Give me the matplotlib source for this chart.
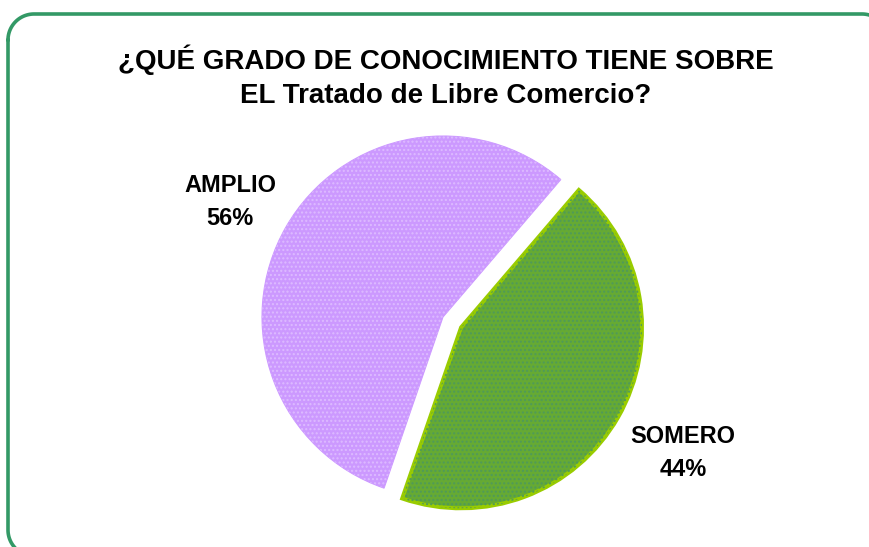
import numpy as np
import matplotlib.pyplot as plt

plt.rcParams["font.family"] = ["Liberation Sans", "DejaVu Sans"]

labels = ["AMPLIO", "SOMERO"]
shares = [56, 44]
colors = ["#CC99FF", "#66AA33"]
dots = ["#DDBBFF", "#4F9A5A"]
edges = ["#CC99FF", "#99CC00"]
title = "¿QUÉ GRADO DE CONOCIMIENTO TIENE SOBRE\nEL Tratado de Libre Comercio?"

W, H = 869, 547
fig = plt.figure(figsize=(W / 100, H / 100), dpi=100)

# rounded frame in pixel coords (runs off the right and bottom edges)
fr = fig.add_axes([0, 0, 1, 1])
fr.set_xlim(0, W); fr.set_ylim(H, 0); fr.axis("off")
x0, y0, x1, y1, rc = 8.0, 14.0, 888.0, 556.0, 26.0
t = np.linspace(0, np.pi / 2, 30)
px = np.concatenate([x0 + rc - rc * np.cos(t), x1 - rc + rc * np.sin(t),
                     x1 - rc + rc * np.cos(t), x0 + rc - rc * np.sin(t)])
py = np.concatenate([y0 + rc - rc * np.sin(t), y0 + rc - rc * np.cos(t),
                     y1 - rc + rc * np.sin(t), y1 - rc + rc * np.cos(t)])
fr.plot(np.append(px, px[0]), np.append(py, py[0]), color="#339966", lw=2.6,
        clip_on=False, solid_capstyle="round")
fr.text(446, 77, title, ha="center", va="center", fontsize=20, fontweight="bold",
        linespacing=1.4)

# pie: centre at px (443, 317), radius 181 px
R, cx, cy = 181.0, 443.0, 317.0
ax = fig.add_axes([0, 0, 1, 1])
explode = [0, 0.115]
wedges, _ = ax.pie(shares, colors=colors, startangle=49.4, explode=explode,
                   wedgeprops=dict(lw=0))
for w, e in zip(wedges, edges):
    w.set_edgecolor(e)
    w.set_linewidth(2.8 if e != colors[0] else 0.8)
over, _ = ax.pie(shares, colors=["none", "none"], startangle=49.4, explode=explode,
                 wedgeprops=dict(lw=0))
for w, d in zip(over, dots):
    w.set_hatch("....")
    w.set_edgecolor(d)
    w.set_fill(False)
ax.set_xlim(-cx / R, (W - cx) / R)
ax.set_ylim((cy - H) / R, cy / R)
ax.set_aspect("auto")
ax.axis("off")

fr.text(230, 202, f"{labels[0]}\n{shares[0]}%", ha="center", va="center",
        fontsize=17, fontweight="bold", linespacing=1.55)
fr.text(683, 453, f"{labels[1]}\n{shares[1]}%", ha="center", va="center",
        fontsize=17, fontweight="bold", linespacing=1.55)

fig.savefig("out.png", dpi=100)
